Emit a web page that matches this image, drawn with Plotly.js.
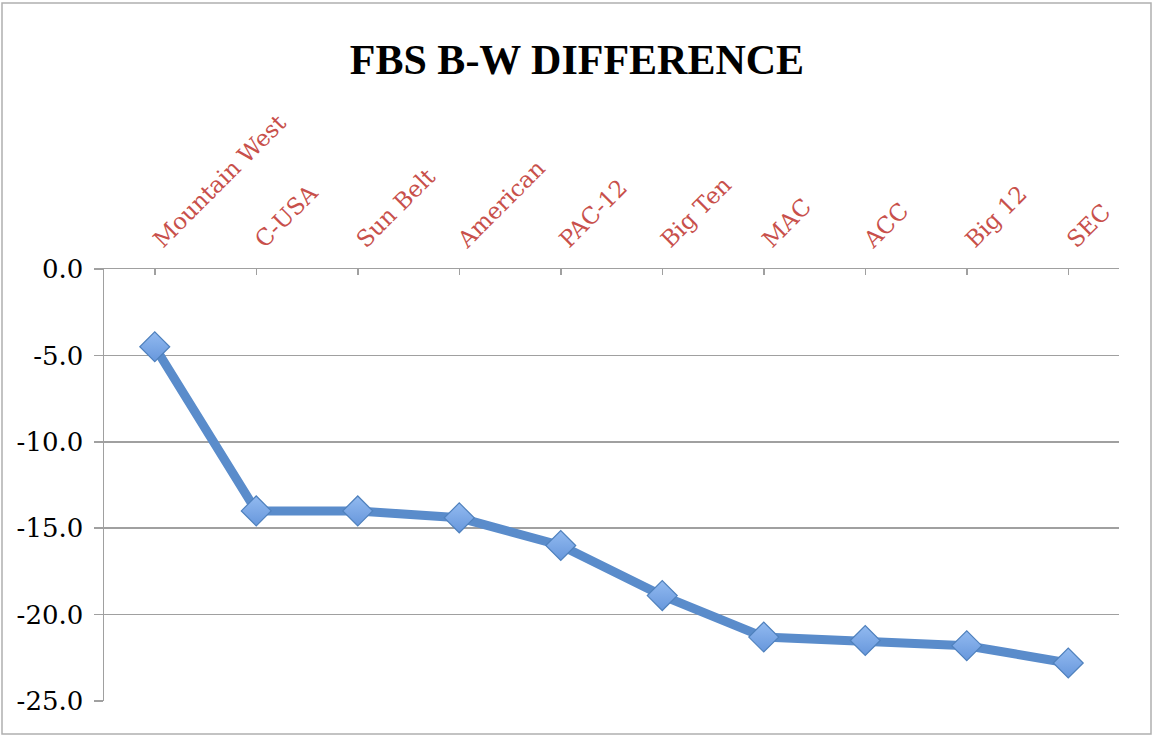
<!DOCTYPE html>
<html>
<head>
<meta charset="utf-8">
<script src="https://cdn.plot.ly/plotly-3.0.1.min.js"></script>
<style>html,body{margin:0;padding:0;background:#fff;}#chart{width:1154px;height:736px;}</style>
</head>
<body>
<div id="chart"></div>
<script>
const categories = ["Mountain West", "C-USA", "Sun Belt", "American", "PAC-12", "Big Ten", "MAC", "ACC", "Big 12", "SEC"];
const values = [-4.5, -14.0, -14.0, -14.4, -16.0, -18.9, -21.3, -21.5, -21.8, -22.8];
const yTicks = [0, -5, -10, -15, -20, -25];
const yTickLabels = ["0.0", "-5.0", "-10.0", "-15.0", "-20.0", "-25.0"];

const trace = {
  x: categories,
  y: values,
  type: "scatter",
  mode: "lines+markers",
  line: {color: "#5a8ccb", width: 9},
  marker: {symbol: "diamond", size: 23, color: "#92baf0",
           gradient: {type: "vertical", color: "#6797dc"},
           line: {color: "#4f81bd", width: 1.2}},
  hoverinfo: "x+y"
};

const layout = {
  width: 1154, height: 736,
  paper_bgcolor: "#ffffff", plot_bgcolor: "#ffffff",
  margin: {l: 104, r: 35, t: 269, b: 35},
  showlegend: false,
  title: {text: "<b>FBS B-W DIFFERENCE</b>", x: 0.5, xanchor: "center", y: 0.92, yanchor: "middle",
          font: {family: "Liberation Serif, DejaVu Serif, serif", size: 42, color: "#000"}},
  xaxis: {
    type: "category", side: "top", range: [-0.5, 9.5],
    showline: true, linecolor: "#a0a0a0", linewidth: 1.5,
    ticks: "inside", ticklen: 6, tickcolor: "#a0a0a0", tickwidth: 1.5,
    tickangle: -45, ticklabelstandoff: 6,
    tickfont: {family: "DejaVu Serif, serif", size: 23, color: "#c8504b"},
    showgrid: false, zeroline: false, fixedrange: true
  },
  yaxis: {
    range: [-25, 0], tickvals: yTicks, ticktext: yTickLabels,
    showline: true, linecolor: "#a0a0a0", linewidth: 1.5,
    ticks: "outside", ticklen: 9, tickcolor: "#a0a0a0", tickwidth: 1.5,
    showgrid: true, gridcolor: "#a0a0a0", gridwidth: 1.5, zeroline: false,
    ticklabelstandoff: 5,
    tickfont: {family: "DejaVu Serif, serif", size: 26, color: "#000"},
    fixedrange: true
  },
  shapes: [
    {type: "rect", xref: "paper", yref: "paper", x0: -102/1015, x1: 1 + 32/1015, y0: -33/432, y1: 1 + 266/432,
     line: {color: "#b0b0b0", width: 1.5}, fillcolor: "rgba(0,0,0,0)"}
  ]
};

Plotly.newPlot("chart", [trace], layout, {displayModeBar: false, staticPlot: true});
</script>
</body>
</html>
